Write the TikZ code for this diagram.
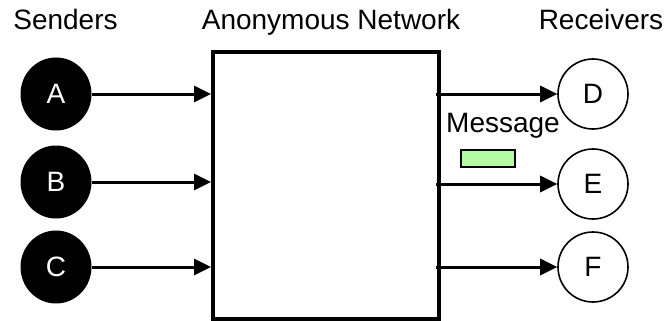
\documentclass[tikz,border=0pt]{standalone}
\usepackage{fontspec}
\setmainfont{Liberation Sans}
\usetikzlibrary{arrows.meta,positioning,shapes.geometric}
\definecolor{msggreen}{HTML}{B3FCA3}

\begin{document}
\begin{tikzpicture}[x=1pt,y=-1pt,font=\fontsize{28}{34}\selectfont,>={Triangle[length=17pt,width=16pt]},
  sender/.style={ellipse,fill=black,text=white,minimum width=71pt,minimum height=73pt,inner sep=0pt},
  receiver/.style={ellipse,draw=black,line width=1.6pt,minimum width=70pt,minimum height=70pt,inner sep=0pt},
  link/.style={->,line width=3pt}]
\useasboundingbox (0,0) rectangle (664,321);
% headings
\node[anchor=base] (hsend) at (65.5,30) {Senders};
\node[anchor=base] (hnet) at (331,30) {Anonymous Network};
\node[anchor=base] (hrecv) at (601,30) {Receivers};
% the network
\node[draw,line width=4pt,minimum width=226pt,minimum height=267pt,inner sep=0pt] (net) at (326,185.5) {};
% senders and receivers
\foreach \n/\y in {A/94,B/182,C/267} {\node[sender] (\n) at (56,\y) {\n};}
\foreach \n/\y in {D/94,E/184,F/267} {\node[receiver] (\n) at (593,\y) {\n};}
% links
\foreach \s in {A,B,C} {\draw[link] (\s) -- (\s -| net.west);}
\foreach \r in {D,E,F} {\draw[link,shorten <=-5pt] (\r -| net.east) -- (\r);}
% message in transit
\node[anchor=base] (msg) at (503,132) {Message};
\node[draw,fill=msggreen,line width=1.5pt,minimum width=54pt,minimum height=17pt,inner sep=0pt] (msgbox) at (488,158.5) {};
\end{tikzpicture}
\end{document}
